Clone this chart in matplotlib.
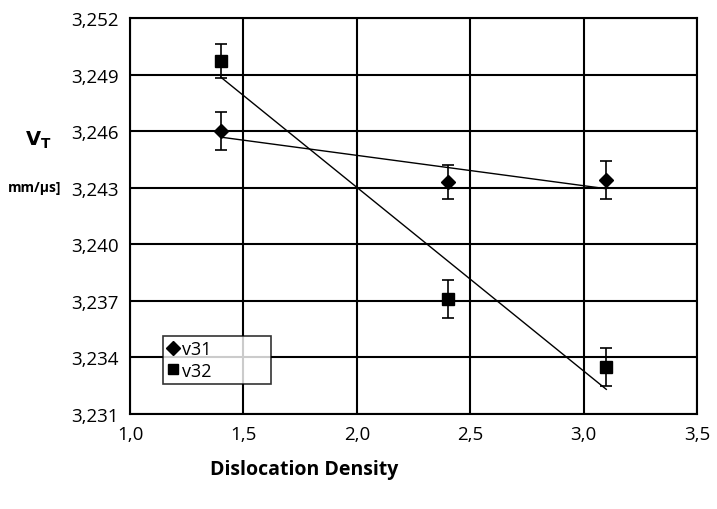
import numpy as np
import matplotlib
matplotlib.use("Agg")
import matplotlib.pyplot as plt
from matplotlib.ticker import FixedLocator, FuncFormatter
from matplotlib.lines import Line2D

# data
x_vals = [1.4, 2.4, 3.1]
v31 = [3.2460, 3.2433, 3.2434]
v32 = [3.2497, 3.2371, 3.2335]
v31_err = [0.0010, 0.0009, 0.0010]
v32_err = [0.0009, 0.0010, 0.0010]
series_names = ['v31', 'v32']
x_ticks = [1.0, 1.5, 2.0, 2.5, 3.0, 3.5]
y_ticks = [3.231, 3.234, 3.237, 3.240, 3.243, 3.246, 3.249, 3.252]

plt.rcParams['font.family'] = ['Open Sans', 'DejaVu Sans']

fig = plt.figure(figsize=(7.17, 5.10), dpi=100)
ax = fig.add_axes([130/717, 1-415/510, 567/717, 396/510])

ax.set_xlim(1.0, 3.5)
ax.set_ylim(3.231, 3.252)
ax.xaxis.set_major_locator(FixedLocator(x_ticks))
ax.yaxis.set_major_locator(FixedLocator(y_ticks))
ax.xaxis.set_major_formatter(FuncFormatter(lambda v, p: f"{v:.1f}".replace('.', ',')))
ax.yaxis.set_major_formatter(FuncFormatter(lambda v, p: f"{v:.3f}".replace('.', ',')))
ax.grid(True, color='black', linewidth=1.5)
ax.set_axisbelow(True)
for s in ax.spines.values():
    s.set_linewidth(1.5)
ax.tick_params(length=0, labelsize=13.5, pad=8)

ax.errorbar(x_vals, v31, yerr=v31_err, fmt='D', color='black', markersize=7,
            capsize=4, elinewidth=1.2, capthick=1.2)
ax.errorbar(x_vals, v32, yerr=v32_err, fmt='s', color='black', markersize=8,
            capsize=4, elinewidth=1.2, capthick=1.2)

xs = np.array([min(x_vals), max(x_vals)])
for ys in (v31, v32):
    p = np.polyfit(x_vals, ys, 1)
    ax.plot(xs, np.polyval(p, xs), color='black', linewidth=1.0)

handles = [Line2D([], [], marker='D', color='black', linestyle='none', markersize=7),
           Line2D([], [], marker='s', color='black', linestyle='none', markersize=7)]
leg = ax.legend(handles, series_names, loc='lower left',
                bbox_to_anchor=(0.058, 0.075, 0.19, 0.13),
                mode='expand', frameon=True, fancybox=False, edgecolor='black',
                fontsize=13, handlelength=0.6, handletextpad=0.2,
                borderaxespad=0, borderpad=0.25, labelspacing=0.2)
leg.get_frame().set_linewidth(1.2)

fig.text(25/717, 1-140/510, r'$\mathbf{V_T}$', fontsize=14, ha='left', va='center')
fig.text(8/717, 1-188/510, 'mm/µs]', fontsize=10, fontweight='bold', ha='left', va='center')
fig.text(210/717, 1-470/510, 'Dislocation Density', fontsize=14, fontweight='bold',
         ha='left', va='center')

fig.savefig('out.png', dpi=100)
